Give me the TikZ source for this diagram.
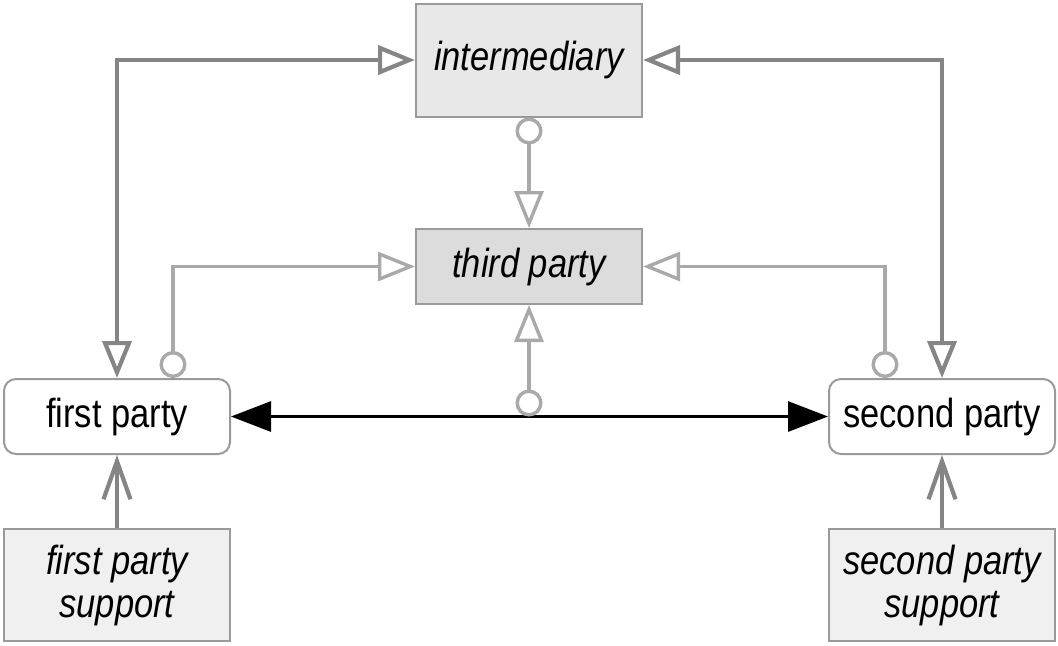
\documentclass[tikz,border=0pt]{standalone}
\usepackage{fontspec}
\setmainfont{Liberation Sans}[FakeStretch=0.85]
\usetikzlibrary{arrows.meta,calc}

\definecolor{lineDark}{HTML}{858585}
\definecolor{lineLight}{HTML}{A9A9A9}
\definecolor{boxEdge}{HTML}{9A9A9A}
\definecolor{fillInter}{HTML}{E8E8E8}
\definecolor{fillThird}{HTML}{DCDCDC}
\definecolor{fillSupport}{HTML}{F0F0F0}

\begin{document}
\begin{tikzpicture}[
    x=0.5pt, y=-0.5pt,
    font=\fontsize{20.3}{21.5}\selectfont,
    otri/.tip={Triangle[open, length=18.5pt, width=14.5pt]},
    ocirc/.tip={Circle[open, length=13.5pt]},
    btri/.tip={Triangle[length=20pt, width=15pt]},
    vbarb/.tip={Straight Barb[length=19pt, width=13.5pt]},
    darkarr/.style={draw=lineDark, line width=2.1pt},
    lightarr/.style={draw=lineLight, line width=1.7pt},
    box/.style={draw=boxEdge, line width=1pt, minimum width=113pt, align=center, inner sep=0pt},
    party/.style={box, rounded corners=6pt, fill=white, minimum height=37.5pt},
    sbox/.style={box, fill=fillSupport, minimum height=56pt, font=\fontsize{20.3}{21.5}\selectfont\itshape}
]
\useasboundingbox (0,0) rectangle (1058,645);

% =========================================================
% 1) CENTRAL BOXES
% =========================================================
\node[box, fill=fillInter, minimum height=56.5pt, font=\fontsize{20.3}{21.5}\selectfont\itshape] (inter) at (529,60) {intermediary};
\node[box, fill=fillThird, minimum height=37.5pt, font=\fontsize{20.3}{21.5}\selectfont\itshape] (third) at (529,266.5) {third party};

% =========================================================
% 2) PARTIES AND THEIR SUPPORT
% =========================================================
\node[party] (first) at (117,416.5) {first party};
\node[party] (second) at (942,416.5) {second party};

\node[sbox] (firstsup) at (117,585) {first party\\support};
\node[sbox] (secondsup) at (942,585) {second party\\support};

% Support feeds each party.
\draw[darkarr, -vbarb] (firstsup.north) -- (first.south);
\draw[darkarr, -vbarb] (secondsup.north) -- (second.south);

% Direct link between the parties.
\draw[line width=1.5pt, btri-btri] (first.east) -- (second.west);

% =========================================================
% 3) LINKS THROUGH THE INTERMEDIARY
% =========================================================
\draw[darkarr, otri-otri] (first.north) |- (inter.west);
\draw[darkarr, otri-otri] (second.north) |- (inter.east);

\draw[lightarr, ocirc-otri] (inter.south) -- (third.north);

% Parties reach the third party.
\draw[lightarr, ocirc-otri] ($(first.north)+(56,0)$) |- (third.west);
\draw[lightarr, ocirc-otri] ($(second.north)+(-57,0)$) |- (third.east);

% From the direct link up to the third party.
\coordinate (hub) at (third.south |- first.east);
\draw[lightarr, ocirc-otri] (hub) -- (third.south);

\end{tikzpicture}
\end{document}
